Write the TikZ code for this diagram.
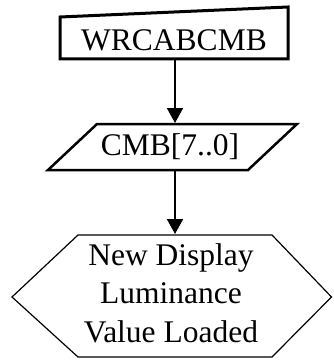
\documentclass[tikz,border=0pt]{standalone}
\usepackage{fontspec}
\setmainfont{Liberation Serif}
\usetikzlibrary{arrows.meta}
\begin{document}
\begin{tikzpicture}[x=1pt,y=-1pt,
  txt/.style={inner sep=0pt, font=\fontsize{31.5}{38.5}\selectfont, align=center},
  arr/.style={line width=1.8pt, -{Triangle[length=15pt,width=16pt]}, shorten >=0pt}]
\useasboundingbox (0,0) rectangle (333,361);
% shapes
\draw[line width=3pt, line join=miter] (60,17) -- (288,7) -- (288,59) -- (60,59) -- cycle;
\draw[line width=2.5pt, line join=miter] (97,124) -- (297,124) -- (248,170) -- (48,170) -- cycle;
\draw[line width=1.2pt] (78,235) -- (272,235) -- (331.5,297) -- (272,357) -- (78,357) -- (12,297) -- cycle;
% texts
\node[txt] (t1) at (174,40) {WRCABCMB};
\node[txt] (t2) at (170,147) {CMB[7..0]};
\node[txt] (t3) at (171,293) {New Display\\Luminance\\Value Loaded};
% connector ends
\coordinate (a1) at (175,60);
\coordinate (a2) at (175,123);
\coordinate (a3) at (175,171);
\coordinate (a4) at (175,234);
\draw[arr] (a1) -- (a2);
\draw[arr] (a3) -- (a4);
\end{tikzpicture}
\end{document}
